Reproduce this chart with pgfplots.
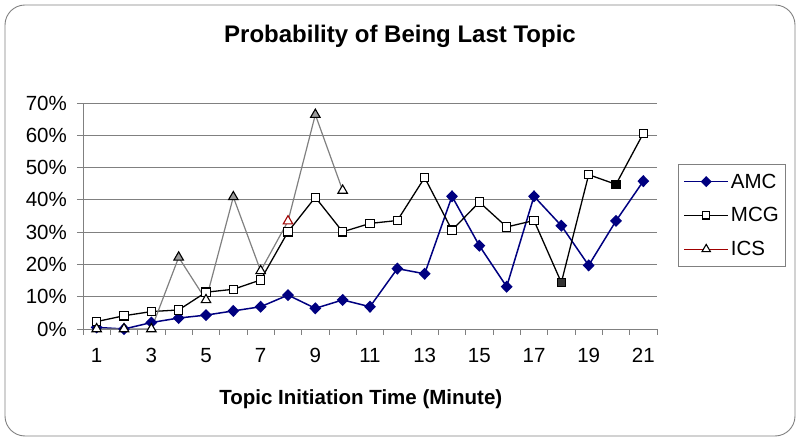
\documentclass[border=0pt]{standalone}
\usepackage{fontspec}
\setmainfont{Liberation Sans}
\usepackage{pgfplots}
\usepackage{pgfplotstable}
\pgfplotsset{compat=1.18}

\definecolor{amcblue}{HTML}{000080}
\definecolor{gridgray}{HTML}{808080}
\definecolor{icsgray}{HTML}{808080}
\definecolor{icsred}{HTML}{A00000}
\definecolor{markgray}{HTML}{9A9A9A}
\definecolor{markdark}{HTML}{333333}

% values in percent
\pgfplotstableread{
x y
1 0.5
2 0
3 2.0
4 3.4
5 4.3
6 5.6
7 6.9
8 10.5
9 6.4
10 9.0
11 6.9
12 18.7
13 17.1
14 41.1
15 25.8
16 13.1
17 41.1
18 32.0
19 19.7
20 33.5
21 45.8
}\amc

\pgfplotstableread{
x y c
1 2.3 w
2 4.1 w
3 5.4 w
4 5.9 w
5 11.4 w
6 12.3 w
7 15.2 w
8 30.1 w
9 40.8 w
10 30.1 w
11 32.7 w
12 33.6 w
13 46.9 w
14 30.6 w
15 39.3 w
16 31.6 w
17 33.6 w
18 14.4 d
19 47.8 w
20 44.8 k
21 60.6 w
}\mcg

\pgfplotstableread{
x y c
1 0 w
2 0 w
3 0 w
4 22.2 g
5 9.0 w
6 40.9 g
7 18.0 w
8 33.4 r
9 66.4 g
10 42.9 w
}\ics

\begin{document}
\begin{tikzpicture}
\path (0,0) rectangle (800bp,442bp);
\draw[gridgray, line width=0.9bp, rounded corners=20bp] (5bp,6bp) rectangle (795bp,437bp);
\node[anchor=base, font=\bfseries\fontsize{24bp}{28bp}\selectfont] at (400bp,399bp) {Probability of Being Last Topic};
\begin{axis}[
  at={(83bp,113bp)}, anchor=south west,
  scale only axis, width=574bp, height=226bp,
  xmin=0.5, xmax=21.5, ymin=0, ymax=70,
  axis lines*=left,
  axis line style={gridgray, line width=0.9bp},
  tick style={gridgray, line width=0.9bp},
  tick align=outside,
  major tick length=6bp,
  /pgf/number format/assume math mode=true,
  tick label style={font=\fontsize{20.5bp}{24bp}\selectfont},
  ytick={0,10,...,70},
  yticklabel={\pgfmathprintnumber{\tick}\%},
  yticklabel style={anchor=east, inner sep=0pt, xshift=-10bp},
  ymajorgrids=true,
  grid style={gridgray, line width=0.8bp},
  xtick={0.5,1.5,...,21.5},
  xticklabels={},
  extra x ticks={1,3,...,21},
  extra x tick labels={1,3,5,7,9,11,13,15,17,19,21},
  extra x tick style={major tick length=0pt, xticklabel style={anchor=base, yshift=-34bp}},
  xlabel={Topic Initiation Time (Minute)},
  xlabel style={at={(axis description cs:0.484,0)}, anchor=base, yshift=-75bp, font=\bfseries\fontsize{20.5bp}{24bp}\selectfont},
  legend style={at={(axis description cs:1.0366,0.729)}, anchor=north west, draw=gridgray, line width=0.9bp,
    font=\fontsize{20.5bp}{24bp}\selectfont, row sep=14bp, inner xsep=5bp, inner ysep=7bp},
  legend cell align=left,
  legend image code/.code={\draw[mark repeat=2, mark phase=2, #1] plot coordinates {(0bp,0bp) (22bp,0bp) (44bp,0bp)};},
]
\addplot[forget plot, amcblue, line width=1.5bp, mark=diamond*, mark size=5bp,
  mark options={fill=amcblue, draw=amcblue, xscale=1.3}] table[x=x, y=y]{\amc};
\addplot[forget plot, black, line width=1.3bp, mark=square*, mark size=4.2bp,
  scatter, scatter src=explicit symbolic,
  scatter/classes={
    w={mark=square*, draw=black, fill=white, line width=1.1bp},
    d={mark=square*, draw=black, fill=markdark, line width=1.1bp},
    k={mark=square*, draw=black, fill=black, line width=1.1bp}}]
  table[x=x, y=y, meta=c]{\mcg};
\addplot[forget plot, icsgray, line width=1.2bp, mark=triangle*, mark size=5.5bp,
  scatter, scatter src=explicit symbolic,
  scatter/classes={
    w={mark=triangle*, draw=black, fill=white, line width=1.1bp},
    g={mark=triangle*, draw=black, fill=markgray, line width=1.1bp},
    r={mark=triangle*, draw=icsred, fill=white, line width=1.1bp}}]
  table[x=x, y=y, meta=c]{\ics};
\addlegendimage{amcblue, line width=1.5bp, mark=diamond*, mark size=4.5bp, mark options={fill=amcblue, draw=amcblue, xscale=1.3}}
\addlegendentry{AMC}
\addlegendimage{black, line width=1.3bp, mark=square*, mark size=3.6bp, mark options={fill=white, draw=black, line width=1.1bp}}
\addlegendentry{MCG}
\addlegendimage{icsred, line width=1.3bp, mark=triangle*, mark size=4.8bp, mark options={fill=white, draw=black, line width=1.1bp}}
\addlegendentry{ICS}
\end{axis}
\end{tikzpicture}
\end{document}
